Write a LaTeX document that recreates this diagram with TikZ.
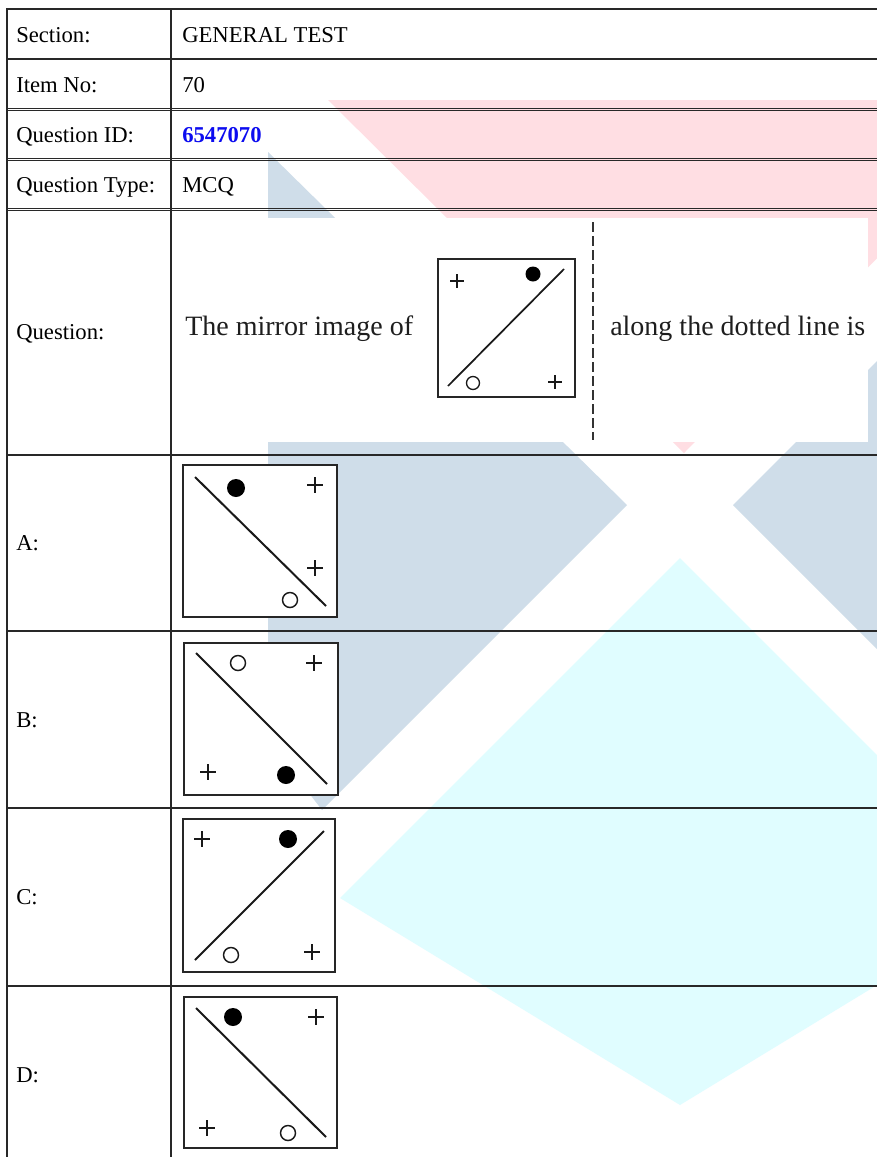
\documentclass[tikz,border=0pt]{standalone}
\usepackage{fontspec}
\setmainfont{Liberation Serif}
\definecolor{wmpink}{RGB}{255,222,227}
\definecolor{wmblue}{RGB}{207,221,233}
\definecolor{wmcyan}{RGB}{224,253,255}
\definecolor{tabline}{RGB}{40,40,40}
\definecolor{idblue}{RGB}{12,12,240}
\definecolor{imgtext}{RGB}{30,30,30}
\tikzset{
  tline/.style={draw=tabline, line width=1.6pt},
  thinline/.style={draw=tabline, line width=0.8pt},
  lbl/.style={anchor=base west, inner sep=0pt, font=\fontsize{17}{20}\selectfont},
  imgtxt/.style={anchor=base west, inner sep=0pt, text=imgtext, font=\fontsize{21}{24}\selectfont},
  figbox/.style={draw=black!85, line width=1.9pt, fill=white},
  figline/.style={draw=black!90, line width=1.5pt},
  plussign/.pic={\draw[black!90, line width=1.1pt] (-8,0) -- (8,0) (0,-8) -- (0,8);},
  smallplus/.pic={\draw[black!90, line width=1pt] (-7,0) -- (7,0) (0,-7) -- (0,7);},
  dotfilled/.pic={\fill[black] (0,0) circle[radius=9];},
  dotopen/.pic={\draw[black!90, line width=1.1pt] (0,0) circle[radius=7.5];},
  smalldot/.pic={\fill[black] (0,0) circle[radius=7.5];},
  smallopen/.pic={\draw[black!90, line width=1pt] (0,0) circle[radius=6.5];}
}
\begin{document}
\begin{tikzpicture}[x=0.75pt, y=-0.75pt]
\useasboundingbox (0,0) rectangle (877,1157);
\fill[white] (0,0) rectangle (877,1157);
% watermark
\begin{scope}
\clip (0,0) rectangle (877,1157);
\fill[wmpink] (328,100) -- (1034,100) -- (684,453) -- cycle;
\fill[wmblue] (268,152) -- (627,505) -- (322,810) -- (268,740) -- cycle;
\fill[wmblue] (733,505) -- (900,338) -- (900,672) -- cycle;
\fill[wmcyan] (680,558) -- (340,898) -- (680,1105) -- (1020,898) -- cycle;
\end{scope}
% question image background
\fill[white] (175,218) rectangle (868,442);
% table lines
\draw[tline] (6,9) -- (877,9);
\draw[tline] (6,59) -- (877,59);
\foreach \yy in {108.3,110.7,158.3,160.7,208.3,210.7}
  \draw[thinline] (6,\yy) -- (877,\yy);
\foreach \yy in {455,631,808,986}
  \draw[tline] (6,\yy) -- (877,\yy);
\draw[tline] (7,8) -- (7,1157);
\draw[tline] (171,8) -- (171,1157);
% labels
\node[lbl] (secL) at (16,42) {Section:};
\node[lbl] (secV) at (182,42) {GENERAL TEST};
\node[lbl] (itemL) at (16,92) {Item No:};
\node[lbl] (itemV) at (182,92) {70};
\node[lbl] (qidL) at (16,142) {Question ID:};
\node[lbl, text=idblue, font=\fontsize{17}{20}\selectfont\bfseries] (qidV) at (182,142) {6547070};
\node[lbl] (qtL) at (16,192) {Question Type:};
\node[lbl] (qtV) at (182,192) {MCQ};
\node[lbl] (qL) at (16,339) {Question:};
\node[lbl] (aL) at (16,550) {A:};
\node[lbl] (bL) at (16,727) {B:};
\node[lbl] (cL) at (16,904) {C:};
\node[lbl] (dL) at (16,1082) {D:};
% question content
\node[imgtxt] (qt1) at (185,335) {The mirror image of};
\node[imgtxt] (qt2) at (610,335) {along the dotted line is};
\draw[figbox, line width=1.5pt] (438,259) rectangle (575,397);
\draw[figline, line width=1.3pt] (448,386) -- (564,269);
\pic at (457,281) {smallplus};
\pic at (533,274) {smalldot};
\pic at (473,383) {smallopen};
\pic at (555,382) {smallplus};
\draw[draw=black!80, line width=1.1pt, dash pattern=on 7.5pt off 3pt] (593,222) -- (593,440);
% option A
\draw[figbox] (183,465) rectangle (337,617);
\draw[figline] (195,477) -- (326,606);
\pic at (236,488) {dotfilled};
\pic at (315,485) {plussign};
\pic at (315,568) {plussign};
\pic at (290,600) {dotopen};
% option B
\draw[figbox] (184,643) rectangle (338,795);
\draw[figline] (196,653) -- (327,784);
\pic at (238,663) {dotopen};
\pic at (314,663) {plussign};
\pic at (208,772) {plussign};
\pic at (286,775) {dotfilled};
% option C
\draw[figbox] (183,819) rectangle (335,972);
\draw[figline] (195,960) -- (324,831);
\pic at (202,839) {plussign};
\pic at (288,839) {dotfilled};
\pic at (231,955) {dotopen};
\pic at (312,952) {plussign};
% option D
\draw[figbox] (184,997) rectangle (337,1148);
\draw[figline] (196,1008) -- (326,1137);
\pic at (233,1017) {dotfilled};
\pic at (316,1017) {plussign};
\pic at (207,1128) {plussign};
\pic at (288,1133) {dotopen};
\end{tikzpicture}
\end{document}
